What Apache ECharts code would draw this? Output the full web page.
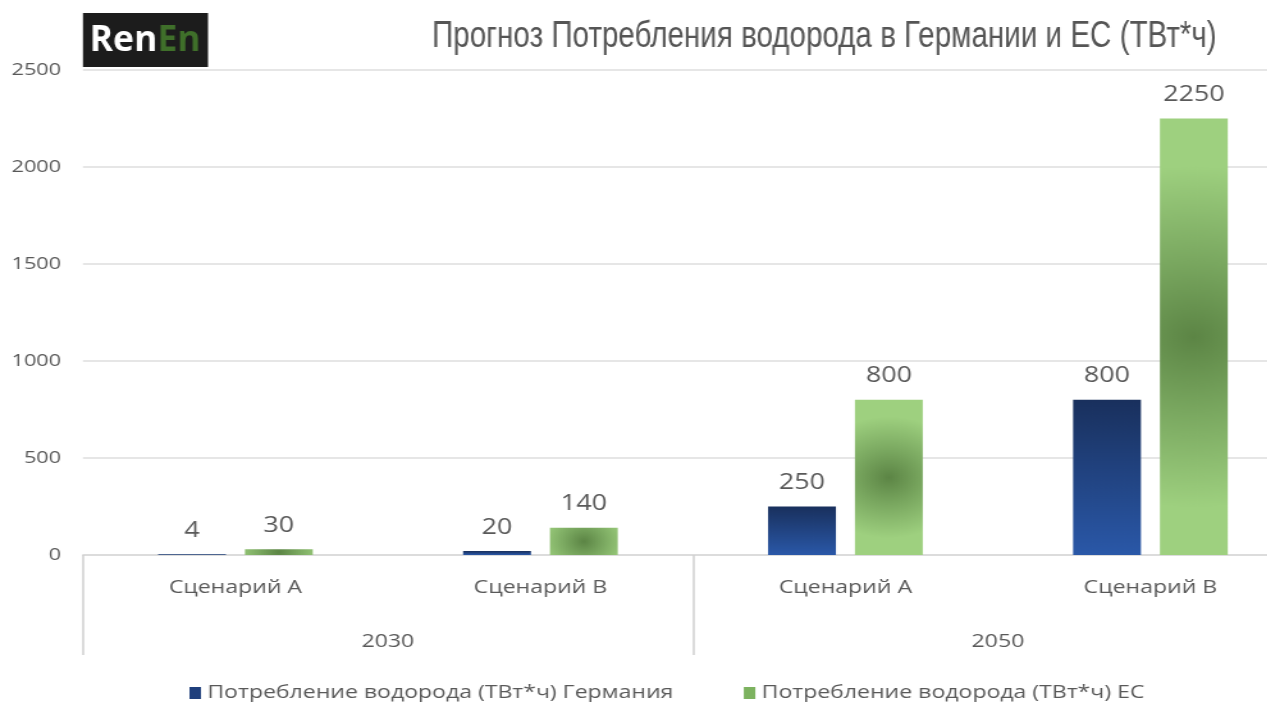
<!DOCTYPE html>
<html>
<head>
<meta charset="utf-8">
<script src="https://cdn.jsdelivr.net/npm/echarts@6/dist/echarts.min.js"></script>
<style>
  html, body { margin: 0; padding: 0; background: #ffffff; overflow: hidden; }
  /* the chart is laid out narrower and widened, which gives its wide lettering */
  #chart { width: 990px; height: 702px; transform: scaleX(1.28); transform-origin: 0 0; }
</style>
</head>
<body>
<div id="chart"></div>
<script>
// Hydrogen consumption forecast, TWh
const scenarios = ['Сценарий А', 'Сценарий В', 'Сценарий А', 'Сценарий В'];
const years = ['2030', '2050'];
const germany = [4, 20, 250, 800];
const eu = [30, 140, 800, 2250];
const yTicks = [0, 500, 1000, 1500, 2000, 2500];
const seriesNames = ['Потребление водорода (ТВт*ч) Германия', 'Потребление водорода (ТВт*ч) ЕС'];
const titleText = 'Прогноз Потребления водорода в Германии и ЕС (ТВт*ч)';

const GRID_H = 485, Y_MAX = 2500, BAR_W = 53;

// green bars get a centred radial shade stretched over the bar's long side
function greenFill(v) {
  const h = Math.max(v * GRID_H / Y_MAX, 1);
  const w = BAR_W * 1.28;
  const ratio = Math.max(h, w) / Math.min(h, w);
  return new echarts.graphic.RadialGradient(0.5, 0.5, 0.5 * ratio, [
    { offset: 0, color: '#5c8545' },
    { offset: 0.45, color: '#7aa860' },
    { offset: 1, color: '#9ed07f' }
  ]);
}
const blueFill = new echarts.graphic.LinearGradient(0, 0, 0, 1, [
  { offset: 0, color: '#19305d' },
  { offset: 1, color: '#2a58a8' }
]);

const labelStyle = {
  show: true, position: 'top', distance: 13,
  color: '#595959', fontSize: 21, fontFamily: 'Open Sans'
};

const chart = echarts.init(document.getElementById('chart'), null, { renderer: 'canvas' });
chart.setOption({
  animation: false,
  backgroundColor: '#ffffff',
  graphic: [
    { type: 'rect', x: 64.8, y: 13, shape: { width: 97.7, height: 54 }, style: { fill: '#1c1c1c' } },
    {
      type: 'text', x: 70, y: 41, scaleX: 0.77,
      style: {
        text: '{a|Ren}{b|En}', verticalAlign: 'middle',
        rich: {
          a: { fill: '#ffffff', fontSize: 36, fontWeight: 'bold', fontFamily: 'Open Sans' },
          b: { fill: '#3f6f2a', fontSize: 36, fontWeight: 'bold', fontFamily: 'Open Sans' }
        }
      }
    },
    {
      type: 'text', x: 337.5, y: 37, scaleX: 0.625,
      style: {
        text: titleText, verticalAlign: 'middle',
        fill: '#555555', fontSize: 37, fontFamily: 'Liberation Sans'
      }
    }
  ],
  legend: {
    top: 679, left: 143, itemGap: 55, itemWidth: 9, itemHeight: 12,
    icon: 'rect',
    textStyle: { color: '#595959', fontSize: 18, fontFamily: 'Open Sans' },
    data: [
      { name: seriesNames[0], itemStyle: { color: '#1f3f7c' } },
      { name: seriesNames[1], itemStyle: { color: '#7cb25f' } }
    ]
  },
  grid: { left: 64.8, top: 70, width: 953.1, height: GRID_H, outerBoundsMode: 'none', containLabel: false },
  xAxis: [
    {
      type: 'category', data: scenarios, position: 'bottom',
      axisLine: { lineStyle: { color: '#d9d9d9', width: 1.5 } },
      axisTick: { show: false },
      axisLabel: { margin: 24, color: '#595959', fontSize: 18, fontFamily: 'Open Sans' }
    },
    {
      type: 'category', data: years, position: 'bottom', gridIndex: 0,
      axisLine: { show: false },
      axisTick: { show: true, length: 100, lineStyle: { color: '#d0d0d0', width: 1.5 } },
      axisLabel: { margin: 78, color: '#595959', fontSize: 18, fontFamily: 'Open Sans' }
    }
  ],
  yAxis: {
    type: 'value', min: yTicks[0], max: yTicks[yTicks.length - 1], interval: yTicks[1] - yTicks[0],
    axisLine: { show: false }, axisTick: { show: false },
    splitLine: { lineStyle: { color: '#dedede', width: 1.5 } },
    axisLabel: { margin: 17, color: '#595959', fontSize: 17, fontFamily: 'Open Sans', formatter: v => String(v) }
  },
  series: [
    {
      name: seriesNames[0], type: 'bar', xAxisIndex: 0, barWidth: BAR_W, barGap: '28%',
      itemStyle: { color: blueFill },
      label: labelStyle,
      data: germany
    },
    {
      name: seriesNames[1], type: 'bar', xAxisIndex: 0, barWidth: BAR_W, barGap: '28%',
      itemStyle: { color: '#7cb25f' },
      label: labelStyle,
      data: eu.map(v => ({ value: v, itemStyle: { color: greenFill(v) } }))
    }
  ]
});
</script>
</body>
</html>
